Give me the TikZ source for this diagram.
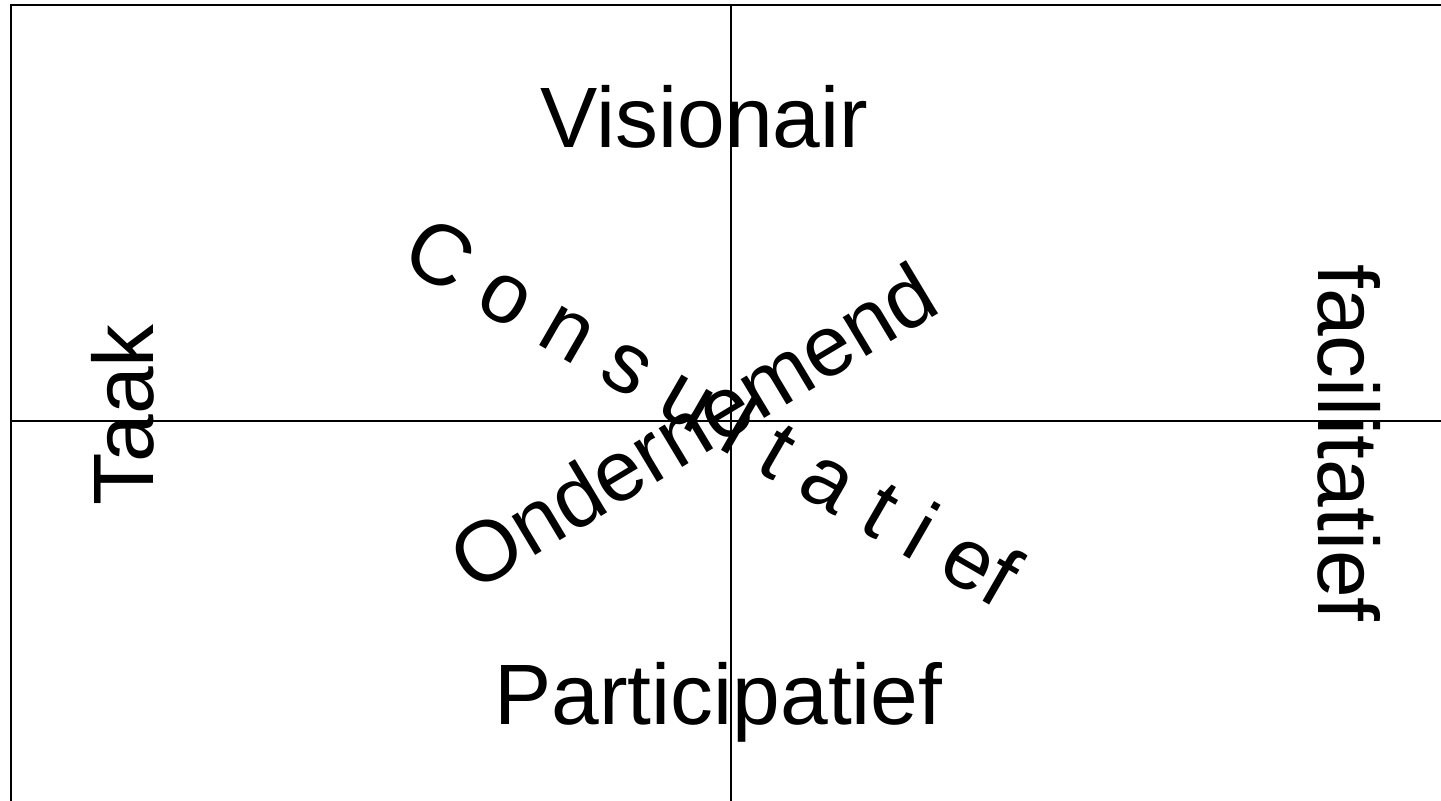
\documentclass[tikz,border=0pt]{standalone}
\usepackage{fontspec}
\setmainfont{Liberation Sans}
\begin{document}
\begin{tikzpicture}[line width=0.5pt]
        \tikzstyle{word}=[inner sep=0pt, anchor=base, font=\fontsize{24.4}{28}\selectfont];
        \useasboundingbox (0,0) rectangle (14.41,8.01);

        \coordinate (bl) at (0.11,0);
        \coordinate (tl) at (0.11,7.96);
        \coordinate (tr) at (14.41,7.96);
        \coordinate (vtop) at (7.31,7.96);
        \coordinate (vbot) at (7.31,0);
        \coordinate (hleft) at (0.11,3.80);
        \coordinate (hright) at (14.41,3.80);

        \node[word] (vis) at (7.045,6.53) {Visionair};
        \node[word] (part) at (7.185,0.76) {Participatief};
        \node[word, rotate=90] (taak) at (1.53,3.86) {Taak};
        \node[word, rotate=-90] (fac) at (13.18,3.58) {facilitatief};
        \node[word, rotate=-30] (cons) at (6.98,3.64) {C o n s u l t a t i ef};
        \node[word, rotate=31] (ond) at (7.08,3.49) {Ondernemend};

        \draw (bl) -- (tl) -- (tr);
        \draw (vtop) -- (vbot);
        \draw (hleft) -- (hright);
    \end{tikzpicture}
\end{document}
